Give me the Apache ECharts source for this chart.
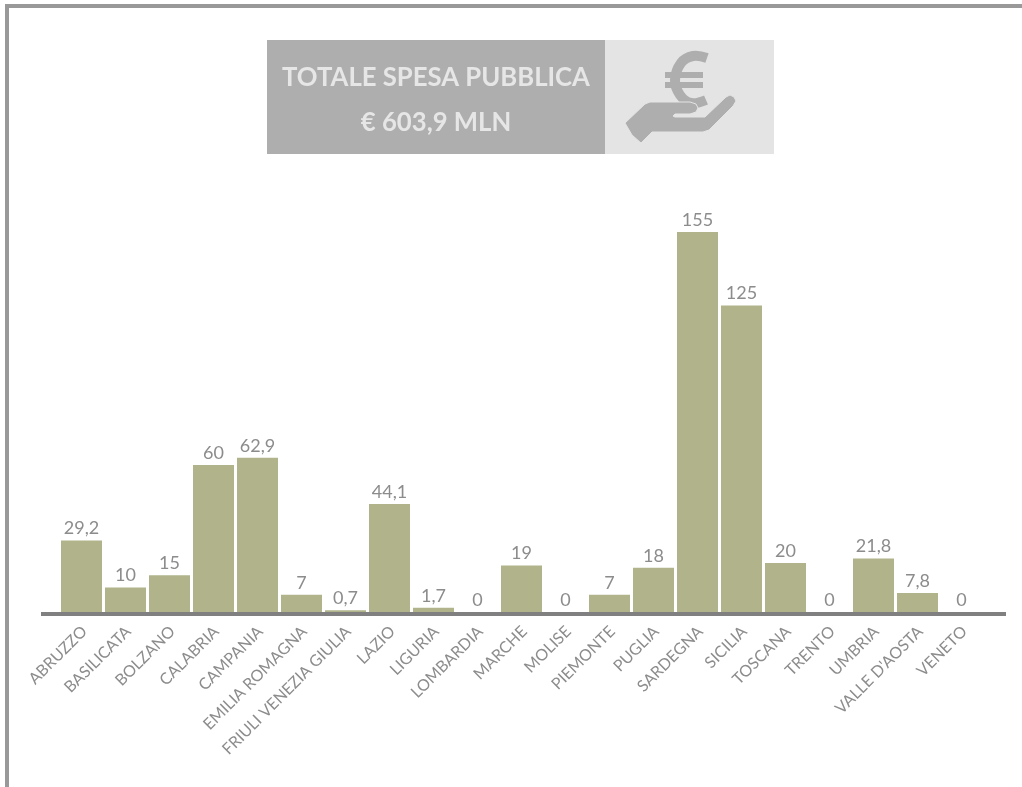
<!DOCTYPE html>
<html>
<head>
<meta charset="utf-8">
<title>Totale spesa pubblica</title>
<script src="https://cdn.jsdelivr.net/npm/echarts@6/dist/echarts.min.js"></script>
<style>
	html, body { margin: 0; padding: 0; background: #fff; }
	#main { width: 1022px; height: 787px; }
</style>
</head>
<body>
<div id="main"></div>
<script>
var regioni = ['ABRUZZO','BASILICATA','BOLZANO','CALABRIA','CAMPANIA','EMILIA ROMAGNA','FRIULI VENEZIA GIULIA','LAZIO','LIGURIA','LOMBARDIA','MARCHE','MOLISE','PIEMONTE','PUGLIA','SARDEGNA','SICILIA','TOSCANA','TRENTO','UMBRIA',"VALLE D'AOSTA",'VENETO'];
var spesa = [29.2, 10, 15, 60, 62.9, 7, 0.7, 44.1, 1.7, 0, 19, 0, 7, 18, 155, 125, 20, 0, 21.8, 7.8, 0];
var titolo = 'TOTALE SPESA PUBBLICA';
var totale = '€ 603,9 MLN';

var grigio = '#8c8c8c';
var chart = echarts.init(document.getElementById('main'));
chart.setOption({
	animation: false,
	textStyle: { fontFamily: 'Lato' },
	grid: { left: 59.5, top: 232, width: 924, height: 380 },
	xAxis: [
		{
			type: 'category',
			data: regioni,
			axisLine: { show: false },
			axisTick: { show: false },
			axisLabel: {
				interval: 0,
				rotate: 45,
				margin: 14,
				verticalAlign: 'top',
				lineHeight: 8,
				fontSize: 16,
				fontFamily: 'Lato',
				color: grigio
			}
		}
	],
	yAxis: [
		{
			type: 'value',
			min: 0,
			max: 155,
			show: false,
			splitLine: { show: false }
		}
	],
	series: [
		{
			type: 'bar',
			data: spesa,
			barWidth: 41,
			itemStyle: { color: '#b1b38b' },
			label: {
				show: true,
				position: 'top',
				distance: 3,
				fontSize: 18,
				fontFamily: 'Lato',
				color: grigio,
				formatter: function (p) { return String(p.value).replace('.', ','); }
			}
		}
	],
	graphic: [
		// cornice
		{ type: 'rect', silent: true, shape: { x: 5, y: 4, width: 1017, height: 4 }, style: { fill: '#999999' } },
		{ type: 'rect', silent: true, shape: { x: 5, y: 4, width: 4, height: 783 }, style: { fill: '#999999' } },
		// asse
		{ type: 'rect', silent: true, z: 10, shape: { x: 41, y: 612, width: 965, height: 4 }, style: { fill: '#808080' } },
		// intestazione
		{ type: 'rect', silent: true, shape: { x: 267, y: 40, width: 338, height: 114 }, style: { fill: '#aeaeae' } },
		{ type: 'rect', silent: true, shape: { x: 605, y: 40, width: 169, height: 114 }, style: { fill: '#e4e4e4' } },
		{ type: 'text', silent: true, x: 436, y: 78, style: { text: titolo, fill: '#e6e6e6', font: 'bold 25.7px Lato', textAlign: 'center', textVerticalAlign: 'middle' } },
		{ type: 'text', silent: true, x: 436, y: 123, style: { text: totale, fill: '#e6e6e6', font: 'bold 25.7px Lato', textAlign: 'center', textVerticalAlign: 'middle' } },
		// icona euro
		{ type: 'polyline', silent: true, shape: { smooth: 0.4, points: [[707, 58], [693, 56], [681, 63], [675, 80], [680, 95], [691, 103], [706, 100]] }, style: { fill: null, stroke: '#aeaeae', lineWidth: 10 } },
		{ type: 'rect', silent: true, shape: { x: 665, y: 72, width: 38, height: 6 }, style: { fill: '#aeaeae' } },
		{ type: 'rect', silent: true, shape: { x: 665, y: 82, width: 38, height: 6 }, style: { fill: '#aeaeae' } },
		// mano
		{ type: 'polygon', silent: true, shape: { points: [[625, 123], [645, 104], [650, 102], [690, 102], [696, 104], [698, 108], [696, 112], [690, 114], [675, 114], [673, 116], [675, 117], [705, 117], [726, 97], [730, 95], [734, 97], [736, 101], [733, 106], [709, 130], [703, 132], [652, 132], [641, 143], [632, 135]] }, style: { fill: '#aeaeae', stroke: '#e4e4e4', lineWidth: 1 } }
	]
});
</script>
</body>
</html>
